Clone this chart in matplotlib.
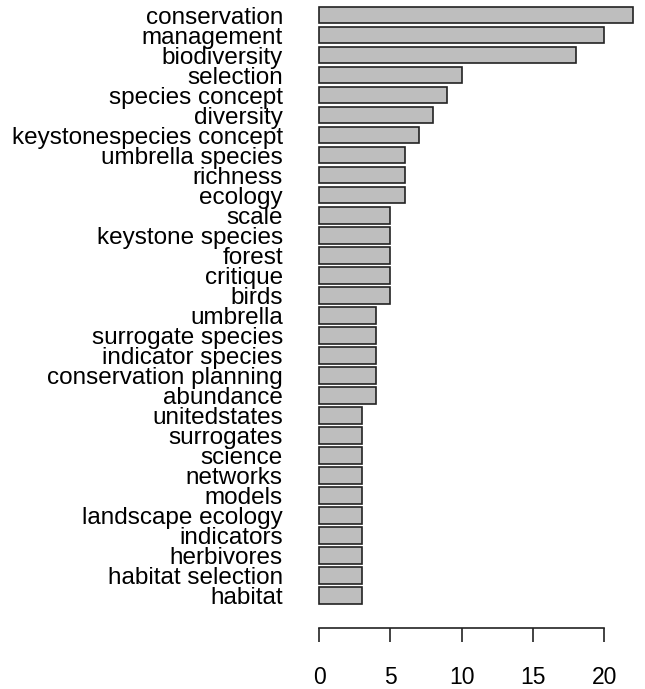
import matplotlib.pyplot as plt
import numpy as np

plt.rcParams['font.family'] = ['Liberation Sans', 'DejaVu Sans']

# keywords, top to bottom as shown
keywords = ['conservation', 'management', 'biodiversity', 'selection', 'species concept',
            'diversity', 'keystonespecies concept', 'umbrella species', 'richness', 'ecology',
            'scale', 'keystone species', 'forest', 'critique', 'birds',
            'umbrella', 'surrogate species', 'indicator species', 'conservation planning', 'abundance',
            'unitedstates', 'surrogates', 'science', 'networks', 'models',
            'landscape ecology', 'indicators', 'herbivores', 'habitat selection', 'habitat']
counts = [22, 20, 18, 10, 9,
          8, 7, 6, 6, 6,
          5, 5, 5, 5, 5,
          4, 4, 4, 4, 4,
          3, 3, 3, 3, 3,
          3, 3, 3, 3, 3]
xticks = [0, 5, 10, 15, 20]

W, H = 645, 689
fig = plt.figure(figsize=(W / 100, H / 100), dpi=100)

# R barplot(horiz=TRUE) layout: width 1, space 0.2, bottom bar first
n = len(keywords)
centers = 0.2 + np.arange(n) * 1.2 + 0.5
vals = counts[::-1]
labels = keywords[::-1]

left_px, right_px = 319, 319 + 22 * 14.26
top_px, bot_px = 10, 628
ax = fig.add_axes([left_px / W, (H - bot_px) / H, (right_px - left_px) / W, (bot_px - top_px) / H])

bars = ax.barh(centers, vals, height=1.0, color='#bebebe', edgecolor='#222222', linewidth=1.2)
for b in bars:
    b.set_clip_on(False)
ax.set_xlim(0, 22)
ax.set_ylim(-1.25, 35.8)

ax.set_yticks(centers, labels)
ax.tick_params(axis='y', length=0, pad=26, labelsize=17.5)
ax.set_xticks(xticks)
ax.tick_params(axis='x', length=10, width=1.2, pad=17, labelsize=16.5, color='#222222')

for s in ['top', 'right', 'left']:
    ax.spines[s].set_visible(False)
ax.spines['bottom'].set_bounds(0, 20)
ax.spines['bottom'].set_linewidth(1.2)
ax.spines['bottom'].set_color('#222222')

fig.savefig('out.png', dpi=100)
